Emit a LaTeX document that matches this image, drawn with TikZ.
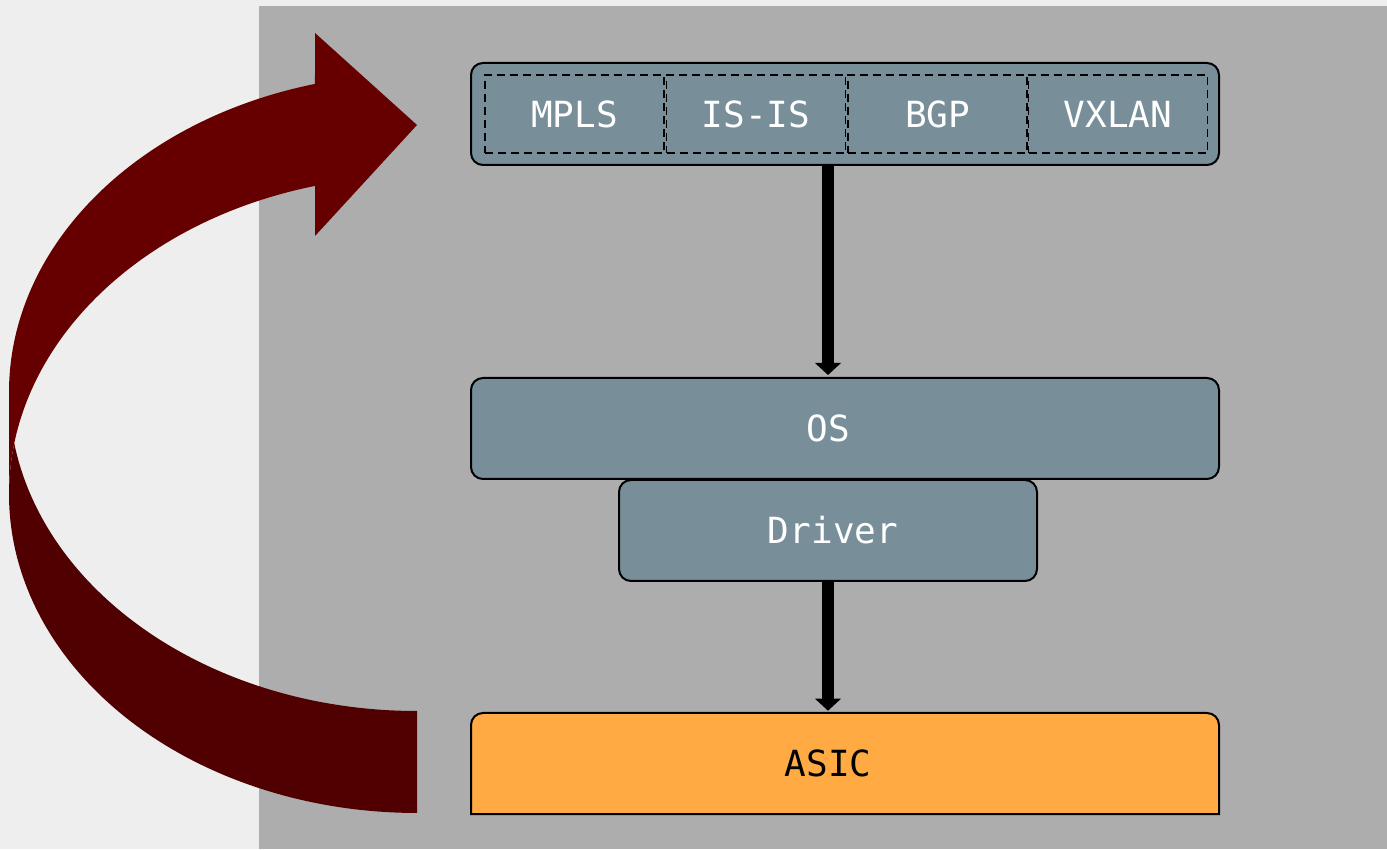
\documentclass[tikz,border=0pt]{standalone}
\usepackage{fontspec}
\newfontfamily\labelfont{DejaVu Sans Mono}
\usetikzlibrary{arrows.meta}
\definecolor{pagebg}{HTML}{EEEEEE}
\definecolor{panel}{HTML}{ADADAD}
\definecolor{layer}{HTML}{788F9A}
\definecolor{chip}{HTML}{FFAA42}
\definecolor{loopred}{HTML}{660000}
\definecolor{loopdark}{HTML}{500000}

\begin{document}
\begin{tikzpicture}[x=0.75pt,y=0.75pt,
  labeltext/.style={font=\labelfont\fontsize{27}{32}\selectfont, inner sep=0pt},
  layerbox/.style={labeltext, draw=black, line width=1.5pt, fill=layer,
    rounded corners=9pt, text=white},
  protobox/.style={labeltext, draw=black, dash pattern=on 6pt off 3.75pt,
    line width=1.4pt, minimum width=134.25pt, minimum height=58.5pt, text=white},
  flow/.style={line width=8.5pt, draw=black,
    -{Triangle[width=19pt,length=9pt]}, shorten >=1.5pt}
]
\useasboundingbox (0,0) rectangle (1387,849);
% page and panel
\fill[pagebg] (0,0) rectangle (1387,849);
\fill[panel] (259,0) rectangle (1387,843);

% curved feedback arrow: body with head, then the darker tail
\fill[loopred] (9,456.6)
  arc[start angle=180, end angle=104.48, x radius=408, y radius=318.6]
  -- (315,816) -- (417,724) -- (315,613) -- (315,663.1)
  arc[start angle=104.48, end angle=180, x radius=408, y radius=318.6]
  -- cycle;
\fill[loopdark] (417,138)
  arc[start angle=270, end angle=189.21, x radius=408, y radius=318.6]
  arc[start angle=170.79, end angle=270, x radius=408, y radius=318.6]
  -- cycle;

% protocol layer
\node[layerbox, minimum width=561pt, minimum height=76.5pt] (protos) at (845,735) {};
\node[protobox] (mpls)  at (574.5,735) {MPLS};
\node[protobox] (isis)  at (756,735)   {IS-IS};
\node[protobox] (bgp)   at (937.5,735) {BGP};
\node[protobox] (vxlan) at (1118,735)  {VXLAN};

% OS and driver (labels sit on the arrow axis rather than the box centre)
\node[layerbox, minimum width=561pt, minimum height=75.75pt] (os) at (845,420.5) {OS\kern25.5pt};
\node[layerbox, minimum width=313.5pt, minimum height=75.75pt] (driver) at (828,318.5) {\kern7.5pt Driver};

% ASIC: rounded top corners, square bottom
\path[draw=black, line width=1.5pt, fill=chip]
  (471,35) -- (471,124) arc[start angle=180, end angle=90, radius=9pt]
  -- (1207,136) arc[start angle=90, end angle=0, radius=9pt]
  -- (1219,35) -- cycle;
\node[labeltext, text=black, minimum width=561pt, minimum height=75.75pt] (asic) at (845,85.5) {ASIC\kern25.5pt};

% connectors
\draw[flow] (protos.south -| driver.center) -- (os.north -| driver.center);
\draw[flow] (driver.south) -- (asic.north -| driver.center);
\end{tikzpicture}
\end{document}
